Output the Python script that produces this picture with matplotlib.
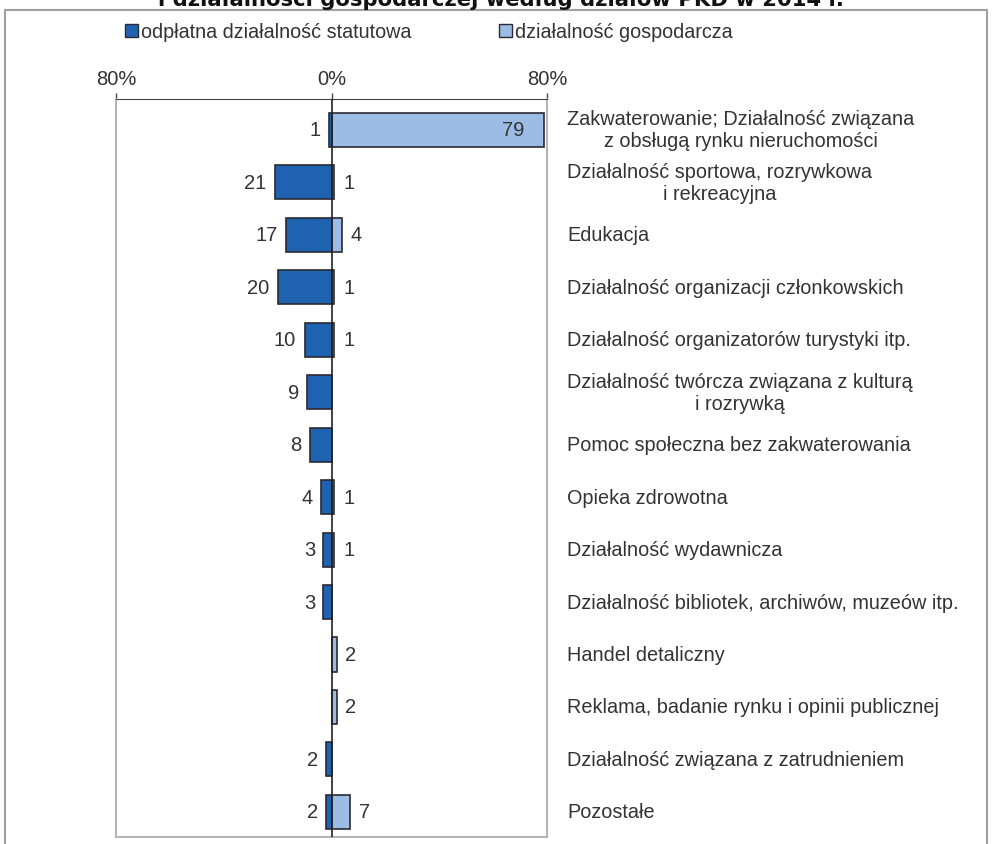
import matplotlib.pyplot as plt
from matplotlib.patches import Rectangle
from matplotlib.transforms import blended_transform_factory

plt.rcParams['font.family'] = ['Liberation Sans', 'DejaVu Sans']

# dane
categories = [
    "Zakwaterowanie; Działalność związana\nz obsługą rynku nieruchomości",
    "Działalność sportowa, rozrywkowa\ni rekreacyjna",
    "Edukacja",
    "Działalność organizacji członkowskich",
    "Działalność organizatorów turystyki itp.",
    "Działalność twórcza związana z kulturą\ni rozrywką",
    "Pomoc społeczna bez zakwaterowania",
    "Opieka zdrowotna",
    "Działalność wydawnicza",
    "Działalność bibliotek, archiwów, muzeów itp.",
    "Handel detaliczny",
    "Reklama, badanie rynku i opinii publicznej",
    "Działalność związana z zatrudnieniem",
    "Pozostałe",
]
statutowa = [1, 21, 17, 20, 10, 9, 8, 4, 3, 3, None, None, 2, 2]
gospodarcza = [79, 1, 4, 1, 1, None, None, 1, 1, None, 2, 2, None, 7]
tick_vals = [-80, 0, 80]
tick_labels = ["80%", "0%", "80%"]

dark = '#1f63b0'
light = '#9cbce6'
edge = '#2a2a32'
txt = '#333333'

fig = plt.figure(figsize=(9.92, 8.45), dpi=100)
ax = fig.add_axes([116 / 992, 1 - 838 / 845, 431 / 992, 738 / 845])

y = list(range(len(categories)))
h = 0.65
for i in y:
    if statutowa[i]:
        ax.barh(i, -statutowa[i], height=h, color=dark, edgecolor=edge, linewidth=1.2, zorder=2)
    if gospodarcza[i]:
        ax.barh(i, gospodarcza[i], height=h, color=light, edgecolor=edge, linewidth=1.2, zorder=2)

# etykiety wartości
for i in y:
    if statutowa[i]:
        ax.annotate(str(statutowa[i]), (-statutowa[i], i), xytext=(-6, 0), textcoords='offset points',
                    ha='right', va='center', fontsize=14.5, color=txt)
    if gospodarcza[i]:
        if gospodarcza[i] > 40:
            ax.annotate(str(gospodarcza[i]), (gospodarcza[i], i), xytext=(-14, 0), textcoords='offset points',
                        ha='right', va='center', fontsize=14.5, color=txt)
        else:
            ax.annotate(str(gospodarcza[i]), (max(gospodarcza[i], 1.5), i), xytext=(6, 0),
                        textcoords='offset points', ha='left', va='center', fontsize=14.5, color=txt)

# nazwy kategorii po prawej
tr = blended_transform_factory(ax.transAxes, ax.transData)
for i, c in enumerate(categories):
    ax.text(1.047, i, c, transform=tr, ha='left', va='center', multialignment='center',
            fontsize=14.3, color=txt, linespacing=1.2)

ax.axvline(0, color='#222222', linewidth=1.2, zorder=3)
ax.set_xlim(-80, 80)
ax.set_ylim(13.48, -0.59)
ax.set_yticks([])
ax.xaxis.tick_top()
ax.set_xticks(tick_vals)
ax.set_xticklabels(tick_labels, fontsize=14.5, color=txt)
ax.tick_params(axis='x', direction='out', length=4, width=1, pad=4, colors='#444444', labelcolor=txt)
ax.spines['top'].set_color('#444444')
for s in ['left', 'right', 'bottom']:
    ax.spines[s].set_color('#b5b5b5')
    ax.spines[s].set_linewidth(1.5)

# legenda
h1 = Rectangle((0, 0), 1, 1, facecolor=dark, edgecolor=edge)
h2 = Rectangle((0, 0), 1, 1, facecolor=light, edgecolor=edge)
fig.legend([h1, h2], ["odpłatna działalność statutowa", "działalność gospodarcza"],
           loc='center left', bbox_to_anchor=(125 / 992, 1 - 33 / 845), ncol=2, frameon=False,
           handlelength=0.65, handleheight=0.65, handletextpad=0.15, columnspacing=4.45,
           borderaxespad=0, borderpad=0, fontsize=14.2, labelcolor=txt)

# ramka wykresu
fig.patches.append(Rectangle((5 / 992, -0.01), 982 / 992, 1 - 11 / 845 + 0.01, transform=fig.transFigure,
                             fill=False, edgecolor='#a0a0a0', linewidth=1.5))

# tytuł (ucięty u góry)
fig.text(0.505, 1 - 6 / 845, "i działalności gospodarczej według działów PKD w 2014 r.",
         ha='center', va='baseline', fontsize=15.2, fontweight='bold', family='DejaVu Sans', color='#111111')

fig.savefig('out.png', dpi=100)
